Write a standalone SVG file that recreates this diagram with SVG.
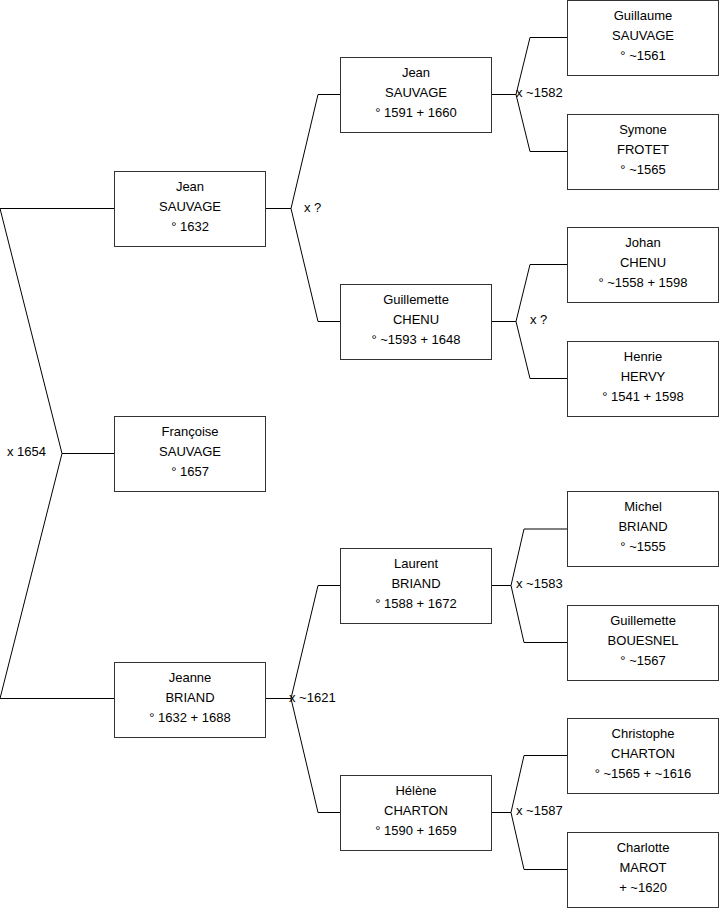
<svg xmlns="http://www.w3.org/2000/svg" width="719" height="908" viewBox="0 0 719 908">
<style>
rect.b{fill:#fff;stroke:#333;stroke-width:1}
text{font-family:"Liberation Sans",Arial,sans-serif;font-size:13px;fill:#000}
.n text{text-anchor:middle}
.c path{fill:none;stroke:#000;stroke-width:1}
</style>
<rect width="719" height="908" fill="#fff"/>
<g class="c" id="connectors">
<path d="M0,208.5H114.5M0,208.5L62,453.5L0,698.5M62,453.5H114.5M0,698.5H114.5"/>
<path d="M265.5,208.5H291M318,94.5L291,208.5L318,321.5M318,94.5H340.5M318,321.5H340.5"/>
<path d="M265.5,698.5H291M318,585.5L291,698.5L318,812.5M318,585.5H340.5M318,812.5H340.5"/>
<path d="M491.5,94.5H516M530,37.5L516,94.5L530,151.5M530,37.5H567.5M530,151.5H567.5"/>
<path d="M491.5,321.5H516M530,264.5L516,321.5L530,378.5M530,264.5H567.5M530,378.5H567.5"/>
<path d="M491.5,585.5H511M524,529L511,585.5L524,642.5M524,529H567.5M524,642.5H567.5"/>
<path d="M491.5,812.5H511M524,755.5L511,812.5L524,869.5M524,755.5H567.5M524,869.5H567.5"/>
<text x="7" y="456">x 1654</text>
<text x="304" y="212">x ?</text>
<text x="289" y="702">x ~1621</text>
<text x="516" y="97">x ~1582</text>
<text x="530" y="324">x ?</text>
<text x="516" y="588">x ~1583</text>
<text x="516" y="815">x ~1587</text>
</g>
<g class="n" id="n-jean-1632" transform="translate(114.5,171)"><rect class="b" x="0" y="0.5" width="151" height="75"/><text x="75.5" y="19.5">Jean</text><text x="75.5" y="39.5">SAUVAGE</text><text x="75.5" y="59.5">° 1632</text></g>
<g class="n" id="n-francoise" transform="translate(114.5,416)"><rect class="b" x="0" y="0.5" width="151" height="75"/><text x="75.5" y="19.5">Françoise</text><text x="75.5" y="39.5">SAUVAGE</text><text x="75.5" y="59.5">° 1657</text></g>
<g class="n" id="n-jeanne" transform="translate(114.5,662)"><rect class="b" x="0" y="0.5" width="151" height="75"/><text x="75.5" y="19.5">Jeanne</text><text x="75.5" y="39.5">BRIAND</text><text x="75.5" y="59.5">° 1632 + 1688</text></g>
<g class="n" id="n-jean-1591" transform="translate(340.5,57)"><rect class="b" x="0" y="0.5" width="151" height="75"/><text x="75.5" y="19.5">Jean</text><text x="75.5" y="39.5">SAUVAGE</text><text x="75.5" y="59.5">° 1591 + 1660</text></g>
<g class="n" id="n-guillemette-chenu" transform="translate(340.5,284)"><rect class="b" x="0" y="0.5" width="151" height="75"/><text x="75.5" y="19.5">Guillemette</text><text x="75.5" y="39.5">CHENU</text><text x="75.5" y="59.5">° ~1593 + 1648</text></g>
<g class="n" id="n-laurent" transform="translate(340.5,548)"><rect class="b" x="0" y="0.5" width="151" height="75"/><text x="75.5" y="19.5">Laurent</text><text x="75.5" y="39.5">BRIAND</text><text x="75.5" y="59.5">° 1588 + 1672</text></g>
<g class="n" id="n-helene" transform="translate(340.5,775)"><rect class="b" x="0" y="0.5" width="151" height="75"/><text x="75.5" y="19.5">Hélène</text><text x="75.5" y="39.5">CHARTON</text><text x="75.5" y="59.5">° 1590 + 1659</text></g>
<g class="n" id="n-guillaume" transform="translate(567.5,0)"><rect class="b" x="0" y="0.5" width="151" height="75"/><text x="75.5" y="19.5">Guillaume</text><text x="75.5" y="39.5">SAUVAGE</text><text x="75.5" y="59.5">° ~1561</text></g>
<g class="n" id="n-symone" transform="translate(567.5,114)"><rect class="b" x="0" y="0.5" width="151" height="75"/><text x="75.5" y="19.5">Symone</text><text x="75.5" y="39.5">FROTET</text><text x="75.5" y="59.5">° ~1565</text></g>
<g class="n" id="n-johan" transform="translate(567.5,227)"><rect class="b" x="0" y="0.5" width="151" height="75"/><text x="75.5" y="19.5">Johan</text><text x="75.5" y="39.5">CHENU</text><text x="75.5" y="59.5">° ~1558 + 1598</text></g>
<g class="n" id="n-henrie" transform="translate(567.5,341)"><rect class="b" x="0" y="0.5" width="151" height="75"/><text x="75.5" y="19.5">Henrie</text><text x="75.5" y="39.5">HERVY</text><text x="75.5" y="59.5">° 1541 + 1598</text></g>
<g class="n" id="n-michel" transform="translate(567.5,491)"><rect class="b" x="0" y="0.5" width="151" height="75"/><text x="75.5" y="19.5">Michel</text><text x="75.5" y="39.5">BRIAND</text><text x="75.5" y="59.5">° ~1555</text></g>
<g class="n" id="n-guillemette-bouesnel" transform="translate(567.5,605)"><rect class="b" x="0" y="0.5" width="151" height="75"/><text x="75.5" y="19.5">Guillemette</text><text x="75.5" y="39.5">BOUESNEL</text><text x="75.5" y="59.5">° ~1567</text></g>
<g class="n" id="n-christophe" transform="translate(567.5,718)"><rect class="b" x="0" y="0.5" width="151" height="75"/><text x="75.5" y="19.5">Christophe</text><text x="75.5" y="39.5">CHARTON</text><text x="75.5" y="59.5">° ~1565 + ~1616</text></g>
<g class="n" id="n-charlotte" transform="translate(567.5,832)"><rect class="b" x="0" y="0.5" width="151" height="75"/><text x="75.5" y="19.5">Charlotte</text><text x="75.5" y="39.5">MAROT</text><text x="75.5" y="59.5">+ ~1620</text></g>
</svg>
